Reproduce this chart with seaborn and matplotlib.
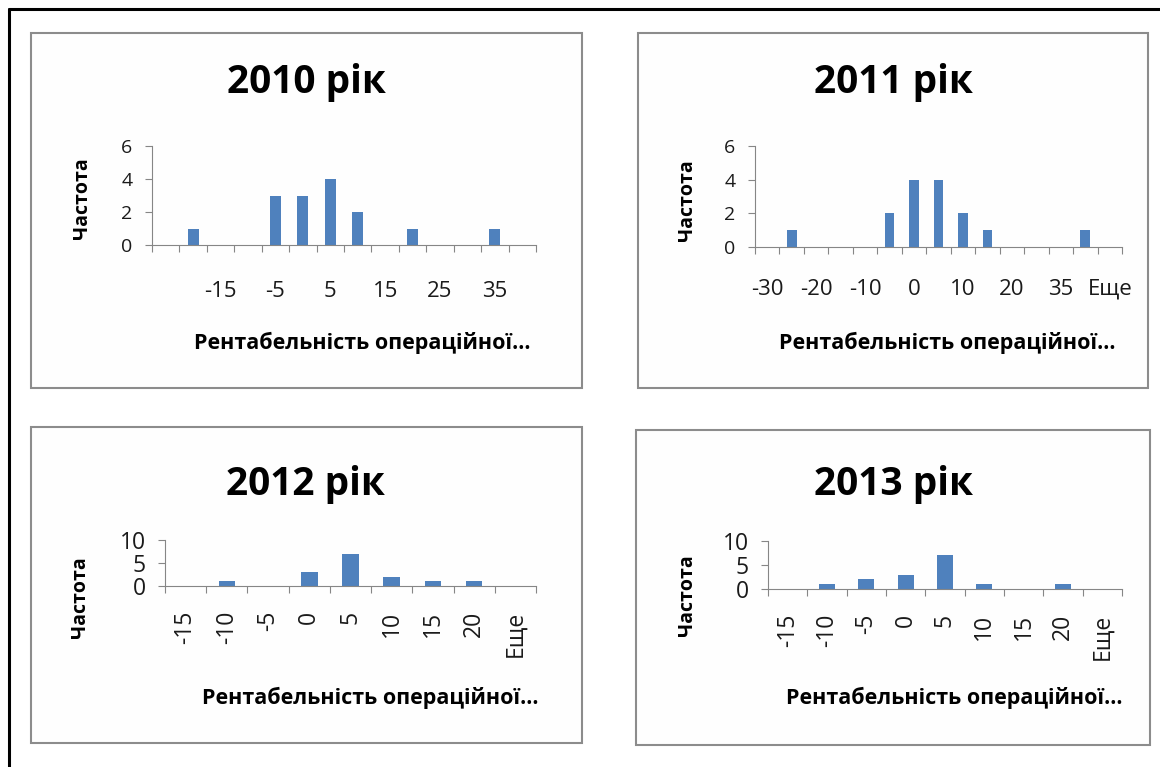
import matplotlib
matplotlib.use("Agg")
import numpy as np
import matplotlib.pyplot as plt
from matplotlib.patches import Rectangle
from matplotlib.lines import Line2D
from matplotlib.ticker import FixedLocator
import seaborn as sns

sns.set_theme(style="white")
plt.rcParams["font.family"] = ["Open Sans", "DejaVu Sans"]
plt.rcParams["axes.unicode_minus"] = False

W, H = 1160, 767
BAR_COLOR = "#4F81BD"
AXIS_COLOR = "#868686"
FRAME_COLOR = "#8c8c8c"

# Histogram bins (upper bounds) and frequencies for each year
bins_2010 = ["-25", "-20", "-15", "-10", "-5", "0", "5", "10", "15", "20", "25", "30", "35", "Еще"]
freq_2010 = [0, 1, 0, 0, 3, 3, 4, 2, 0, 1, 0, 0, 1, 0]
labels_2010 = ["", "", "-15", "", "-5", "", "5", "", "15", "", "25", "", "35", ""]

bins_2011 = ["-30", "-25", "-20", "-15", "-10", "-5", "0", "5", "10", "15", "20", "30", "35", "40", "Еще"]
freq_2011 = [0, 1, 0, 0, 0, 2, 4, 4, 2, 1, 0, 0, 0, 1, 0]
labels_2011 = ["-30", "", "-20", "", "-10", "", "0", "", "10", "", "20", "", "35", "", "Еще"]

bins_2012 = ["-15", "-10", "-5", "0", "5", "10", "15", "20", "Еще"]
freq_2012 = [0, 1, 0, 3, 7, 2, 1, 1, 0]
labels_2012 = bins_2012

bins_2013 = ["-15", "-10", "-5", "0", "5", "10", "15", "20", "Еще"]
freq_2013 = [0, 1, 2, 3, 7, 1, 0, 1, 0]
labels_2013 = bins_2013

titles = ["2010 рік", "2011 рік", "2012 рік", "2013 рік"]
x_title = "Рентабельність операційної..."
y_title = "Частота"

yticks_top = [0, 2, 4, 6]
yticks_bottom = [0, 5, 10]

# Layout in pixels (origin at top-left of the image)
panels = [
    dict(bins=bins_2010, freq=freq_2010, labels=labels_2010, yticks=yticks_top,
         box=(31, 33, 582, 388), plot=(152, 146, 536, 245), title=(306, 93),
         xlab=(362, 332), ylab=(82, 198), rot=0, xfs=16, yfs=14, xpad=26),
    dict(bins=bins_2011, freq=freq_2011, labels=labels_2011, yticks=yticks_top,
         box=(638, 33, 1148, 388), plot=(755, 146, 1122, 247), title=(893, 93),
         xlab=(947, 332), ylab=(687, 200), rot=0, xfs=16, yfs=14, xpad=23),
    dict(bins=bins_2012, freq=freq_2012, labels=labels_2012, yticks=yticks_bottom,
         box=(31, 427, 582, 743), plot=(165, 540, 536, 586), title=(305, 495),
         xlab=(370, 687), ylab=(80, 597), rot=90, xfs=16.5, yfs=16.5, xpad=18),
    dict(bins=bins_2013, freq=freq_2013, labels=labels_2013, yticks=yticks_bottom,
         box=(636, 430, 1150, 745), plot=(768, 541, 1122, 589), title=(893, 495),
         xlab=(954, 687), ylab=(687, 595), rot=90, xfs=16.5, yfs=16.5, xpad=18),
]

fig = plt.figure(figsize=(W / 100, H / 100), dpi=100, facecolor="white")

# Outer page frame
fig.add_artist(Line2D([9 / W, 9 / W], [0, 1 - 9 / H], transform=fig.transFigure,
                      color="black", lw=2.2))
fig.add_artist(Line2D([9 / W, 1], [1 - 9 / H, 1 - 9 / H], transform=fig.transFigure,
                      color="black", lw=2.2))

for p, title in zip(panels, titles):
    x0, y0, x1, y1 = p["box"]
    fig.add_artist(Rectangle((x0 / W, 1 - y1 / H), (x1 - x0) / W, (y1 - y0) / H,
                             transform=fig.transFigure, facecolor="#fefefe",
                             edgecolor=FRAME_COLOR, lw=1.5, zorder=0))

    l, t, r, b = p["plot"]
    ax = fig.add_axes([l / W, 1 - b / H, (r - l) / W, (b - t) / H])
    ax.patch.set_alpha(0)

    n = len(p["bins"])
    sns.barplot(x=p["bins"], y=p["freq"], order=p["bins"], color=BAR_COLOR,
                width=0.4, linewidth=0, saturation=1, ax=ax)

    ax.set_xlim(-0.5, n - 0.5)
    ax.set_ylim(0, p["yticks"][-1])
    ax.set_yticks(p["yticks"])
    ax.set_xticks(range(n))
    ax.set_xticklabels(p["labels"], rotation=p["rot"], fontsize=p["xfs"], color="#1a1a1a")
    ax.xaxis.set_minor_locator(FixedLocator(np.arange(n + 1) - 0.5))
    ax.tick_params(axis="x", which="major", bottom=True, length=0, pad=p["xpad"])
    ax.tick_params(axis="x", which="minor", bottom=True, length=5, width=0.8,
                   color=AXIS_COLOR, direction="out")
    ax.tick_params(axis="y", which="major", left=True, length=5, width=0.8,
                   color=AXIS_COLOR, direction="out", pad=9, labelsize=p["yfs"],
                   labelcolor="#1a1a1a")

    for side in ("top", "right"):
        ax.spines[side].set_visible(False)
    for side in ("left", "bottom"):
        ax.spines[side].set_color(AXIS_COLOR)
        ax.spines[side].set_linewidth(0.8)

    ax.set_xlabel(x_title, fontsize=15.5, fontweight="bold", color="black")
    ax.xaxis.set_label_coords(p["xlab"][0] / W, 1 - p["xlab"][1] / H,
                              transform=fig.transFigure)
    ax.set_ylabel(y_title, fontsize=14, fontweight="bold", color="black", va="center")
    ax.yaxis.set_label_coords(p["ylab"][0] / W, 1 - p["ylab"][1] / H,
                              transform=fig.transFigure)

    ax.annotate(title, xy=(p["title"][0], H - p["title"][1]), xycoords="figure pixels",
                ha="center", va="baseline", fontsize=28, fontweight="bold", color="black")

fig.savefig("out.png", dpi=100, facecolor="white")
